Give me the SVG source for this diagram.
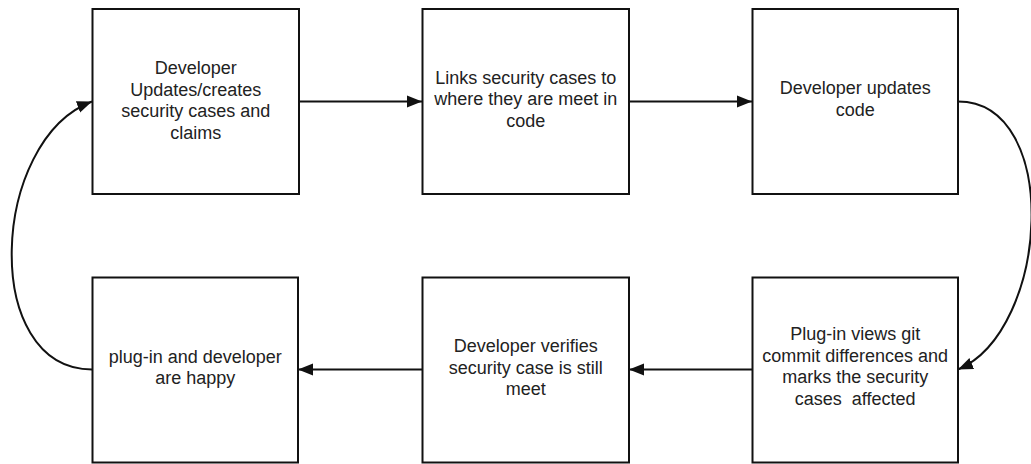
<svg xmlns="http://www.w3.org/2000/svg" width="1031" height="464" viewBox="0 0 1031 464">
<style>
.box{fill:#fff;stroke:#111;stroke-width:2}
.t{font-family:"Liberation Sans",Arial,sans-serif;font-size:18px;fill:#222;text-anchor:middle;white-space:pre}
.c{fill:none;stroke:#111;stroke-width:2;marker-end:url(#ah)}
</style>
<defs>
<marker id="ah" markerUnits="userSpaceOnUse" markerWidth="16" markerHeight="14" refX="15" refY="7" orient="auto">
<path d="M0,1 L15,7 L0,13 Z" fill="#111"/>
</marker>
</defs>
<rect width="1031" height="464" fill="#fff"/>
<g id="connectors">
<path class="c" d="M299,101.5 L422,101.5"/>
<path class="c" d="M629,101.5 L752,101.5"/>
<path class="c" d="M958,101.5 C1062,101.5 1050,330 958,369.5"/>
<path class="c" d="M752,369.5 L629,369.5"/>
<path class="c" d="M422,369.5 L298,369.5"/>
<path class="c" d="M92,369.5 C-20,369.5 -10,140 92,101.5"/>
</g>
<g id="n1">
<rect class="box" x="92.5" y="9" width="206.5" height="185"/>
<text class="t" x="195.7" y="74">Developer</text>
<text class="t" x="195.7" y="95.7">Updates/creates</text>
<text class="t" x="195.7" y="117.4">security cases and</text>
<text class="t" x="195.7" y="139.1">claims</text>
</g>
<g id="n2">
<rect class="box" x="422.5" y="9" width="206.5" height="185"/>
<text class="t" x="525.7" y="83.6">Links security cases to</text>
<text class="t" x="525.7" y="105.3">where they are meet in</text>
<text class="t" x="525.7" y="127">code</text>
</g>
<g id="n3">
<rect class="box" x="752.5" y="9" width="205.5" height="185"/>
<text class="t" x="855.2" y="94.4">Developer updates</text>
<text class="t" x="855.2" y="116.1">code</text>
</g>
<g id="n4">
<rect class="box" x="752.5" y="277.5" width="205.5" height="185"/>
<text class="t" x="855.2" y="340">Plug-in views git</text>
<text class="t" x="855.2" y="361.7">commit differences and</text>
<text class="t" x="855.2" y="383.4">marks the security</text>
<text class="t" x="855.2" y="405.1" xml:space="preserve">cases  affected</text>
</g>
<g id="n5">
<rect class="box" x="422.5" y="277.5" width="206.5" height="185"/>
<text class="t" x="525.7" y="351.9">Developer verifies</text>
<text class="t" x="525.7" y="373.6">security case is still</text>
<text class="t" x="525.7" y="395.3">meet</text>
</g>
<g id="n6">
<rect class="box" x="92.5" y="277.5" width="205.5" height="185"/>
<text class="t" x="195.2" y="362.6">plug-in and developer</text>
<text class="t" x="195.2" y="384.3">are happy</text>
</g>
</svg>
